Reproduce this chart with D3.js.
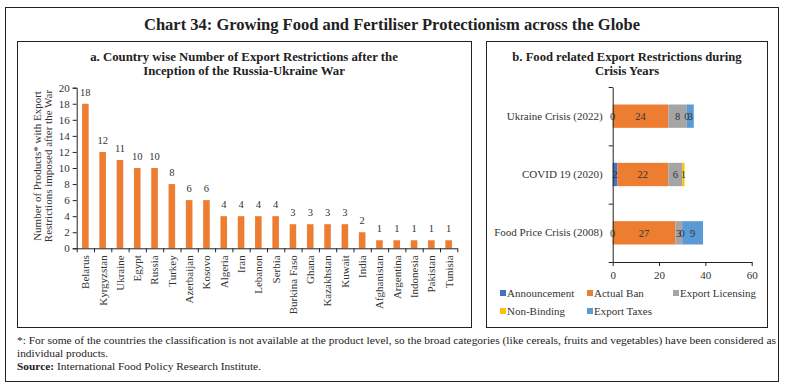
<!DOCTYPE html>
<html>
<head>
<meta charset="utf-8">
<script src="https://cdn.jsdelivr.net/npm/d3@7"></script>
<style>
  body { margin: 0; background: #fff; }
  text { font-family: "Liberation Serif", serif; }
</style>
</head>
<body>
<div class="canvas"></div>
<script>
// panel a data
const countries = ['Belarus', 'Kyrgyzstan', 'Ukraine', 'Egypt', 'Russia', 'Turkey', 'Azerbaijan', 'Kosovo',
  'Algeria', 'Iran', 'Lebanon', 'Serbia', 'Burkina Faso', 'Ghana', 'Kazakhstan', 'Kuwait', 'India',
  'Afghanistan', 'Argentina', 'Indonesia', 'Pakistan', 'Tunisia']
const restrictions = [18, 12, 11, 10, 10, 8, 6, 6, 4, 4, 4, 4, 3, 3, 3, 3, 2, 1, 1, 1, 1, 1]
const yTicksA = [0, 2, 4, 6, 8, 10, 12, 14, 16, 18, 20]

// panel b data
const crises = ['Ukraine Crisis (2022)', 'COVID 19 (2020)', 'Food Price Crisis (2008)']
const seriesNames = ['Announcement', 'Actual Ban', 'Export Licensing', 'Non-Binding', 'Export Taxes']
const announcement = [0, 2, 0]
const actualBan = [24, 22, 27]
const exportLicensing = [8, 6, 3]
const nonBinding = [0, 1, 0]
const exportTaxes = [3, null, 9]
const xTicksB = [0, 20, 40, 60]

const colors = ['#4472C4', '#ED7D31', '#A5A5A5', '#FFC000', '#5B9BD5']
const textColor = '#333'

const W = 785, H = 388

const svg = d3.select('.canvas')
  .append('svg')
  .attr('width', W)
  .attr('height', H)

// frames
svg.append('rect').attr('x', 5.5).attr('y', 7.5).attr('width', 773).attr('height', 374)
  .attr('fill', 'none').attr('stroke', '#222').attr('stroke-width', 1)
svg.append('rect').attr('x', 17.5).attr('y', 41.5).attr('width', 454).attr('height', 286)
  .attr('fill', 'none').attr('stroke', '#222').attr('stroke-width', 1)
svg.append('rect').attr('x', 486.5).attr('y', 41.5).attr('width', 281).attr('height', 286)
  .attr('fill', 'none').attr('stroke', '#222').attr('stroke-width', 1)

svg.append('text')
  .attr('x', 392).attr('y', 30)
  .attr('text-anchor', 'middle')
  .attr('font-size', 16.5).attr('font-weight', 'bold').attr('fill', '#222')
  .text('Chart 34: Growing Food and Fertiliser Protectionism across the Globe')

const titleA = ['a. Country wise Number of Export Restrictions after the', 'Inception of the Russia-Ukraine War']
titleA.forEach((t, i) => {
  svg.append('text').attr('x', 244).attr('y', 61 + i * 14)
    .attr('text-anchor', 'middle').attr('font-size', 12.8).attr('font-weight', 'bold').attr('fill', '#222')
    .text(t)
})
const titleB = ['b. Food related Export Restrictions during', 'Crisis Years']
titleB.forEach((t, i) => {
  svg.append('text').attr('x', 627).attr('y', 61 + i * 14)
    .attr('text-anchor', 'middle').attr('font-size', 12.6).attr('font-weight', 'bold').attr('fill', '#222')
    .text(t)
})

// ---------- panel a ----------
const x0 = 76.7, x1 = 457.3, yTop = 87.7, yBot = 248.3

const xScale = d3.scaleBand().domain(countries).range([x0, x1]).paddingInner(0.62).paddingOuter(0.31)
const xEdge = d3.scaleLinear().domain([0, countries.length]).range([x0, x1])
const yScale = d3.scaleLinear().domain([0, 20]).range([yBot, yTop])

const gA = svg.append('g')

const yAxisA = gA.append('g')
  .attr('transform', `translate(${x0}, 0)`)
  .call(d3.axisLeft(yScale).tickValues(yTicksA).tickSize(4).tickPadding(3))
yAxisA.selectAll('text').attr('font-size', 11).attr('fill', textColor).style('font-family', '"Liberation Serif", serif')

gA.selectAll('rect.bar')
  .data(restrictions)
  .enter()
  .append('rect')
    .attr('class', 'bar')
    .attr('x', (d, i) => xScale(countries[i]))
    .attr('y', d => yScale(d))
    .attr('width', xScale.bandwidth())
    .attr('height', d => yBot - yScale(d))
    .attr('fill', colors[1])

gA.selectAll('text.val')
  .data(restrictions)
  .enter()
  .append('text')
    .attr('class', 'val')
    .attr('x', (d, i) => xScale(countries[i]) + xScale.bandwidth() / 2)
    .attr('y', d => yScale(d) - 8)
    .attr('text-anchor', 'middle')
    .attr('font-size', 10.5)
    .attr('fill', textColor)
    .text(d => d)

const xAxisA = gA.append('g')
  .attr('transform', `translate(0, ${yBot})`)
  .call(d3.axisBottom(xEdge).tickValues(d3.range(countries.length + 1)).tickFormat('').tickSize(4).tickSizeOuter(0))

const labelsA = gA.append('g')
  .attr('transform', `translate(0, ${yBot})`)
  .call(d3.axisBottom(xScale).tickSize(0))
labelsA.select('.domain').remove()
labelsA.selectAll('text')
  .attr('transform', 'rotate(-90)')
  .attr('x', -7).attr('y', 0).attr('dy', '0.35em')
  .attr('text-anchor', 'end')
  .attr('font-size', 11)
  .attr('fill', textColor)
  .style('font-family', '"Liberation Serif", serif')

const yLabA = ['Number of Products* with Export', 'Restrictions imposed after the War']
yLabA.forEach((t, i) => {
  svg.append('text')
    .attr('transform', `translate(${40.5 + i * 11}, 166) rotate(-90)`)
    .attr('text-anchor', 'middle')
    .attr('font-size', 11)
    .attr('fill', textColor)
    .text(t)
})

// ---------- panel b ----------
const bx0 = 612.7, bx1 = 751.7, by0 = 87, by1 = 262

const rows = crises.map((c, i) => ({
  crisis: c,
  'Announcement': announcement[i],
  'Actual Ban': actualBan[i],
  'Export Licensing': exportLicensing[i],
  'Non-Binding': nonBinding[i],
  'Export Taxes': exportTaxes[i]
}))

const stacked = d3.stack().keys(seriesNames).value((d, k) => d[k] ?? 0)(rows)

const xB = d3.scaleLinear().domain([0, 60]).range([bx0, bx1])
const yB = d3.scaleBand().domain(crises).range([by0, by1]).paddingInner(0.6).paddingOuter(0.3)
const yEdge = d3.scaleLinear().domain([0, crises.length]).range([by0, by1])

const gB = svg.append('g')

stacked.forEach((s, si) => {
  gB.selectAll(`rect.s${si}`)
    .data(s)
    .enter()
    .append('rect')
      .attr('class', `s${si}`)
      .attr('x', d => xB(d[0]))
      .attr('y', d => yB(d.data.crisis))
      .attr('width', d => xB(d[1]) - xB(d[0]))
      .attr('height', yB.bandwidth())
      .attr('fill', colors[si])
})

stacked.forEach((s, si) => {
  gB.selectAll(`text.l${si}`)
    .data(s.filter(d => d.data[s.key] != null))
    .enter()
    .append('text')
      .attr('class', `l${si}`)
      .attr('x', d => xB((d[0] + d[1]) / 2))
      .attr('y', d => yB(d.data.crisis) + yB.bandwidth() / 2)
      .attr('dy', '0.35em')
      .attr('text-anchor', 'middle')
      .attr('font-size', 10.5)
      .attr('fill', textColor)
      .text(d => d.data[s.key])
})

gB.append('g')
  .attr('transform', `translate(${bx0}, 0)`)
  .call(d3.axisLeft(yEdge).tickValues(d3.range(crises.length + 1)).tickFormat('').tickSize(4).tickSizeOuter(0))

const catB = gB.append('g')
  .attr('transform', `translate(${bx0 - 10}, 0)`)
  .call(d3.axisLeft(yB).tickSize(0).tickPadding(0))
catB.select('.domain').remove()
catB.selectAll('text').attr('font-size', 11).attr('fill', textColor).style('font-family', '"Liberation Serif", serif')

const xAxisB = gB.append('g')
  .attr('transform', `translate(0, ${by1})`)
  .call(d3.axisBottom(xB).tickValues(xTicksB).tickSize(4).tickSizeOuter(0).tickPadding(5))
xAxisB.selectAll('text').attr('font-size', 11).attr('fill', textColor).style('font-family', '"Liberation Serif", serif')

svg.selectAll('.domain, .tick line').attr('stroke', '#222')

// legend
const legendPos = [[500, 293], [587, 293], [673, 293], [500, 311], [587, 311]]
const legend = svg.append('g')
seriesNames.forEach((n, i) => {
  const [lx, ly] = legendPos[i]
  legend.append('rect').attr('x', lx).attr('y', ly - 3).attr('width', 6).attr('height', 6).attr('fill', colors[i])
  legend.append('text').attr('x', lx + 7).attr('y', ly).attr('dy', '0.35em')
    .attr('font-size', 11).attr('fill', textColor).text(n)
})

// notes
const noteSize = 11.4
svg.append('text').attr('x', 17).attr('y', 344)
  .attr('font-size', noteSize).attr('fill', '#222')
  .attr('textLength', 759).attr('lengthAdjust', 'spacingAndGlyphs')
  .text('*: For some of the countries the classification is not available at the product level, so the broad categories (like cereals, fruits and vegetables) have been considered as')
svg.append('text').attr('x', 17).attr('y', 357)
  .attr('font-size', noteSize).attr('fill', '#222')
  .text('individual products.')
const src = svg.append('text').attr('x', 17).attr('y', 370)
  .attr('font-size', noteSize).attr('fill', '#222')
src.append('tspan').attr('font-weight', 'bold').text('Source:')
src.append('tspan').text(' International Food Policy Research Institute.')
</script>
</body>
</html>
